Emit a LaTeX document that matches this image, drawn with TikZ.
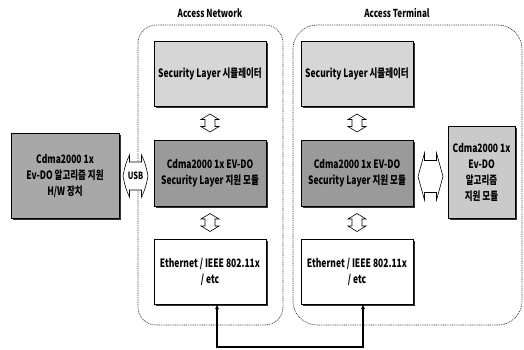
\documentclass[tikz,border=0pt]{standalone}
\usepackage{fontspec}
\setmainfont{Noto Sans CJK KR}[FakeStretch=0.74]
\usetikzlibrary{arrows.meta,shadows}
\definecolor{lightbox}{HTML}{D6D6D6}
\definecolor{darkbox}{HTML}{9A9A9A}
\definecolor{hwbox}{HTML}{A8A8A8}
\definecolor{algbox}{HTML}{CACACA}
\begin{document}
\begin{tikzpicture}[x=1pt,y=-1pt,
  box/.style={draw=black, line width=0.8pt, minimum width=112pt, inner sep=1pt, outer sep=0pt,
    align=center, font=\fontsize{11.5}{16}\selectfont\bfseries,
    drop shadow={shadow xshift=1.6pt, shadow yshift=-1.6pt, fill=black!80, opacity=1}},
  container/.style={draw=black!80, line width=0.7pt, dash pattern=on 0.9pt off 0.9pt, rounded corners=18pt},
  vda/.pic={\draw[line width=0.6pt, fill=white]
     (0,-9) -- (9,-3.5) -- (5,-3.5) -- (5,3.5) -- (9,3.5) -- (0,9)
     -- (-9,3.5) -- (-5,3.5) -- (-5,-3.5) -- (-9,-3.5) -- cycle;},
  hda/.pic={\draw[line width=0.6pt, fill=white]
     (-12.5,0) .. controls (-10,-12) .. (-6,-\hdh) -- (-6,-\hds) -- (6,-\hds) -- (6,-\hdh)
     .. controls (10,-12) .. (12.5,0) .. controls (10,12) .. (6,\hdh) -- (6,\hds) -- (-6,\hds)
     -- (-6,\hdh) .. controls (-10,12) .. cycle;},
  title/.style={font=\fontsize{11}{12}\selectfont\bfseries},
  usbtext/.style={font=\fontsize{10}{10}\selectfont\bfseries, inner sep=0pt},
  conn/.style={line width=1.4pt, {Latex[length=5pt,width=4pt]}-{Latex[length=5pt,width=4pt]}}
]
\useasboundingbox (0,0) rectangle (524,349);
% containers
\draw[container] (138,25) rectangle (283,325);
\draw[container, rounded corners=24pt] (293,25) rectangle (522,325);
\node[title] (tAN) at (210,13) {Access Network};
\node[title] (tAT) at (397,13) {Access Terminal};
% Access Network boxes
\node[box, fill=lightbox, minimum height=65pt] (anS) at (210,73.5) {Security Layer 시뮬레이터};
\node[box, fill=darkbox, minimum height=66pt] (anM) at (210,173) {Cdma2000 1x EV-DO\\Security Layer 지원 모듈};
\node[box, fill=white, minimum height=65pt] (anE) at (210,271.5) {Ethernet / IEEE 802.11x\\/ etc};
% Access Terminal boxes
\node[box, fill=lightbox, minimum height=65pt] (atS) at (357,73.5) {Security Layer 시뮬레이터};
\node[box, fill=darkbox, minimum height=66pt] (atM) at (357,173) {Cdma2000 1x EV-DO\\Security Layer 지원 모듈};
\node[box, fill=white, minimum height=65pt] (atE) at (357,271.5) {Ethernet / IEEE 802.11x\\/ etc};
% outer boxes
\node[box, fill=hwbox, minimum width=108pt, minimum height=85pt] (hw) at (65,175.5) {Cdma2000 1x\\Ev-DO 알고리즘 지원\\H/W 장치};
\node[box, fill=algbox, minimum width=67pt, minimum height=92pt] (alg) at (481.5,172) {Cdma2000 1x\\Ev-DO\\알고리즘\\지원 모듈};
% vertical double arrows
\pic (a1) at (210,123) {vda};
\pic (a2) at (210,222.5) {vda};
\pic (a3) at (357,123) {vda};
\pic (a4) at (357,222.5) {vda};
% horizontal double arrows
\def\hdh{21}\def\hds{14}
\pic (usbarr) at (135.5,176) {hda};
\node[usbtext] (usb) at (135.5,176) {USB};
\def\hdh{23.5}\def\hds{16}
\pic (rarr) at (430.5,176.5) {hda};
% bottom connector
\coordinate (bl) at (217,347);
\coordinate (br) at (363,347);
\draw[conn] (anE.south -| bl) -- (bl) -- (br) -- (atE.south -| br);
\end{tikzpicture}
\end{document}
